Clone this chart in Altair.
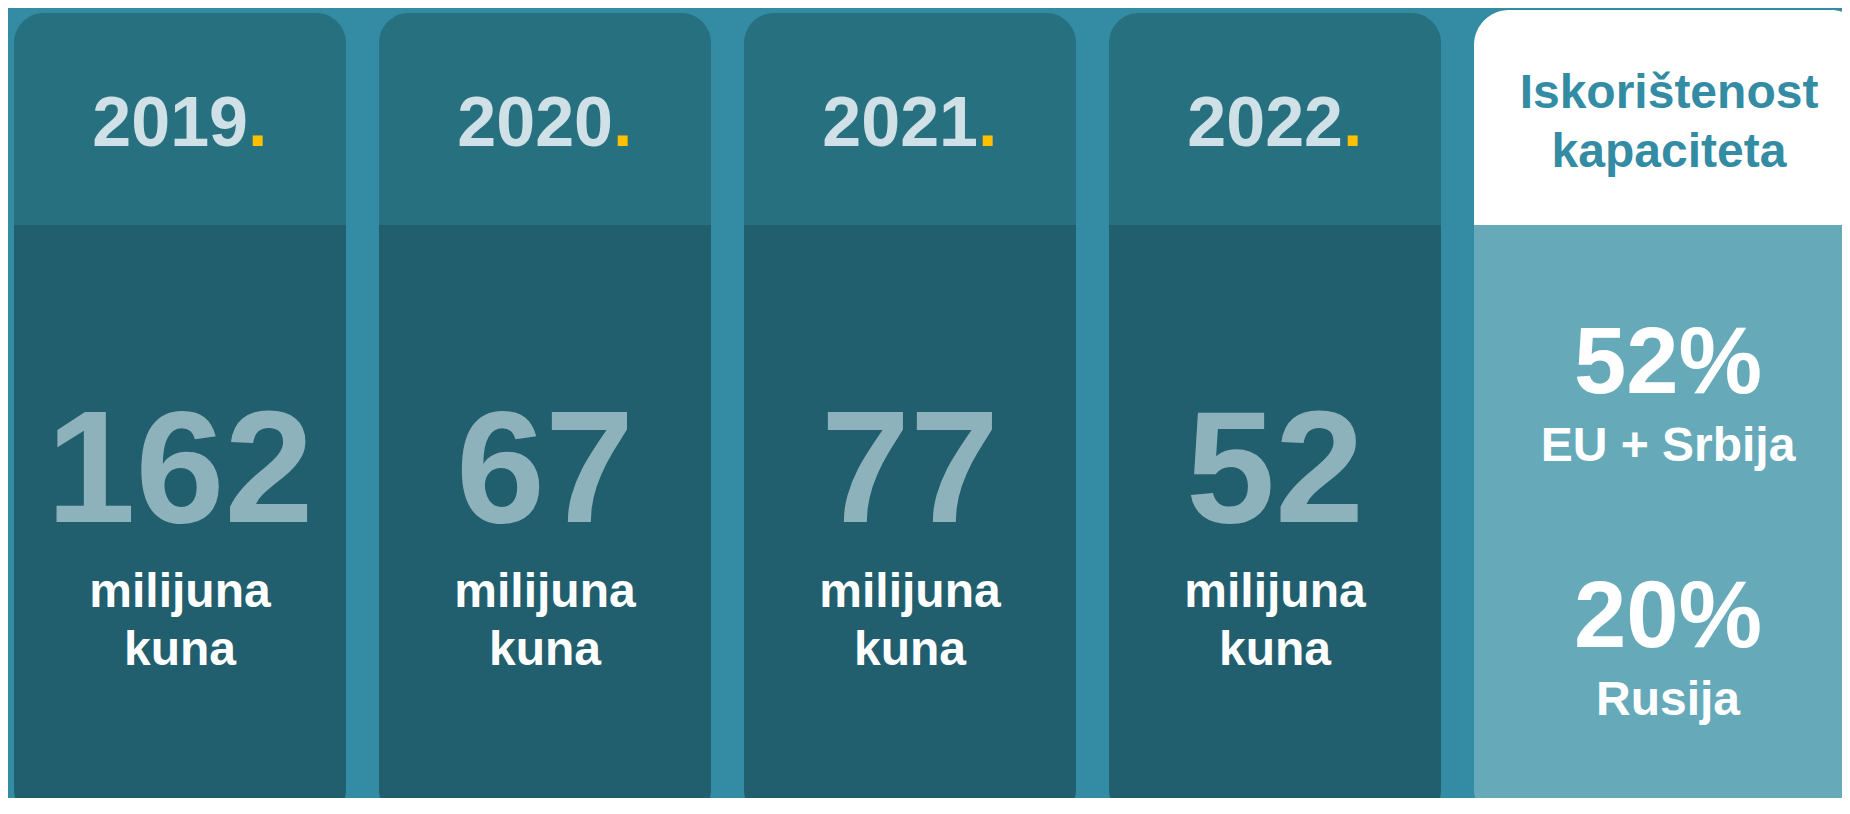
import altair as alt
import pandas as pd

# ---- data ----
years = ["2019", "2020", "2021", "2022"]
values = [162, 67, 77, 52]
unit_line1 = ["milijuna"] * 4
unit_line2 = ["kuna"] * 4

cap_slot = "kapacitet"
cap_title = ["Iskorištenost", "kapaciteta"]
cap_pct = [52, 20]
cap_region = ["EU + Srbija", "Rusija"]

slots = years + [cap_slot]

cards_df = pd.DataFrame({"slot": years, "year": years, "value": values,
                         "l1": unit_line1, "l2": unit_line2})
cap_df = pd.DataFrame({"slot": [cap_slot], "t1": [cap_title[0]], "t2": [cap_title[1]],
                       "p1": [f"{cap_pct[0]}%"], "p2": [f"{cap_pct[1]}%"],
                       "r1": [cap_region[0]], "r2": [cap_region[1]]})

# ---- style ----
W, H = 1834, 790
FONT = "Liberation Sans"
BG = "#338CA3"
HEAD = "#26707F"
BODY = "#215F6F"
CAP_BODY = "#66AABA"
YEAR_C = "#CFE0E6"
DOT_C = "#FFC000"
NUM_C = "#8EB2BB"

SCALE = alt.Scale(domain=slots, range=[6, 1798], paddingInner=33 / 365, paddingOuter=0)
X = alt.X("slot:N", axis=None, sort=slots, scale=SCALE)
XS = alt.X("slot:N", axis=None, sort=slots, bandPosition=0, scale=SCALE)

cards = alt.Chart(cards_df)
cap = alt.Chart(cap_df)

head = cards.mark_rect(color=HEAD, cornerRadiusTopLeft=30, cornerRadiusTopRight=30).encode(
    x=X, y=alt.value(5), y2=alt.value(217))
body = cards.mark_rect(color=BODY, cornerRadiusBottomLeft=30, cornerRadiusBottomRight=30).encode(
    x=X, y=alt.value(217), y2=alt.value(812))

cap_head = cap.mark_rect(color="white", cornerRadiusTopLeft=35, cornerRadiusTopRight=35).encode(
    x=XS, x2=alt.value(W + 24), y=alt.value(2), y2=alt.value(217))
cap_body = cap.mark_rect(color=CAP_BODY, cornerRadiusBottomLeft=30, cornerRadiusBottomRight=30).encode(
    x=XS, x2=alt.value(W + 24), y=alt.value(217), y2=alt.value(812))

def txt(src, field, y, size, color, align="center", dx=0):
    return src.mark_text(align=align, baseline="alphabetic", font=FONT, fontWeight="bold",
                         fontSize=size, color=color, dx=dx).encode(
        x=X, y=alt.value(y), text=field)

year_txt = txt(cards, "year:N", 138, 70, YEAR_C, align="right", dx=68)
dot_txt = cards.mark_text(align="left", baseline="alphabetic", font=FONT, fontWeight="bold",
                          fontSize=70, color=DOT_C, dx=68).encode(
    x=X, y=alt.value(138), text=alt.value("."))
num_txt = txt(cards, "value:N", 514, 160, NUM_C)
u1_txt = txt(cards, "l1:N", 599, 48, "white")
u2_txt = txt(cards, "l2:N", 657, 48, "white")

t1 = txt(cap, "t1:N", 100, 48, BG, dx=29)
t2 = txt(cap, "t2:N", 159, 48, BG, dx=29)
p1 = txt(cap, "p1:N", 385, 94, "white", dx=28)
r1 = txt(cap, "r1:N", 453, 48, "white", dx=28)
p2 = txt(cap, "p2:N", 639, 94, "white", dx=28)
r2 = txt(cap, "r2:N", 707, 48, "white", dx=28)

chart = alt.layer(head, body, cap_head, cap_body, year_txt, dot_txt, num_txt, u1_txt, u2_txt,
                  t1, t2, p1, r1, p2, r2).properties(
    width=W, height=H, background=BG, padding=0,
    autosize=alt.AutoSizeParams(type="none")
).configure_view(strokeWidth=0)

chart.save("out.html", embed_options={"renderer": "svg", "actions": False})
